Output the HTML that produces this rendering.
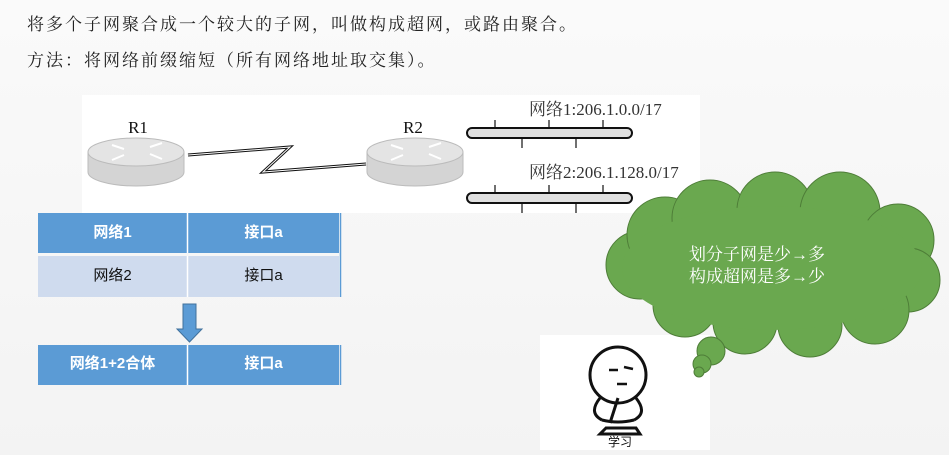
<!DOCTYPE html>
<html><head><meta charset="utf-8"><style>
body{margin:0;width:949px;height:455px;overflow:hidden;background:linear-gradient(#fafafa,#f3f3f3);font-family:"Liberation Serif","Noto Serif CJK SC",serif;position:relative}
.t{position:absolute;left:27px;font-size:17px;letter-spacing:2px;color:#222;white-space:nowrap}
.c{position:absolute;display:flex;align-items:center;justify-content:center;font-family:"Liberation Sans","Noto Sans CJK SC",sans-serif;font-size:15px}
</style></head><body>
<div class="t" style="top:10px">将多个子网聚合成一个较大的子网，叫做构成超网，或路由聚合。</div>
<div class="t" style="top:46px">方法：将网络前缀缩短（所有网络地址取交集）。</div>
<svg width="949" height="455" style="position:absolute;left:0;top:0">
<rect x="82" y="95" width="618" height="118" fill="#fff"/>
<g>
<path d="M88 152 v20 a48 14 0 0 0 96 0 v-20z" fill="#d4d4d4" stroke="#bbb"/>
<ellipse cx="136" cy="152" rx="48" ry="14" fill="#e4e4e4" stroke="#bbb"/>
<path d="M112 145 l12 4 M150 147 l12 -4 M112 160 l12 -5 M150 154 l12 5" stroke="#fff" stroke-width="2"/>
<text x="138" y="133" font-size="17" text-anchor="middle" fill="#111">R1</text>
</g>
<g>
<path d="M367 152 v20 a48 14 0 0 0 96 0 v-20z" fill="#d4d4d4" stroke="#bbb"/>
<ellipse cx="415" cy="152" rx="48" ry="14" fill="#e4e4e4" stroke="#bbb"/>
<path d="M391 145 l12 4 M429 147 l12 -4 M391 160 l12 -5 M429 154 l12 5" stroke="#fff" stroke-width="2"/>
<text x="413" y="133" font-size="17" text-anchor="middle" fill="#111">R2</text>
</g>
<polyline points="188,155 290,147 263,172 366,164" fill="none" stroke="#111" stroke-width="3" stroke-linejoin="miter"/>
<polyline points="188,155 290,147 263,172 366,164" fill="none" stroke="#fff" stroke-width="1"/>
<rect x="467" y="128" width="165" height="10" rx="5" fill="#e0e0e0" stroke="#111" stroke-width="2"/>
<path d="M495 120v8M549 120v8M603 120v8M522 138v10M576 138v10" stroke="#111" stroke-width="1.2"/>
<rect x="467" y="193" width="165" height="10" rx="5" fill="#e0e0e0" stroke="#111" stroke-width="2"/>
<path d="M495 185v8M549 185v8M603 185v8M522 203v10M576 203v10" stroke="#111" stroke-width="1.2"/>
<text x="529" y="115" font-size="17" fill="#333">网络1:206.1.0.0/17</text>
<text x="529" y="178" font-size="17" fill="#333">网络2:206.1.128.0/17</text>
<rect x="38" y="213" width="301" height="40" fill="#5b9bd5"/>
<rect x="38" y="256" width="301" height="41" fill="#cfdbee"/>
<rect x="38" y="345" width="301" height="40" fill="#5b9bd5"/>
<path d="M187.5 213v40M187.5 256v41M187.5 345v40" stroke="#fff" stroke-width="1.5"/>
<path d="M340.5 213v84M340.5 345v40" stroke="#5b9bd5" stroke-width="1.5"/>
<path d="M183 304h13v25h6l-12.5 13l-12.5 -13h6z" fill="#5b9bd5" stroke="#41719c"/>
<rect x="540" y="335" width="170" height="115" fill="#fff"/>
<g fill="#6aa84f" stroke="#4e7d38" stroke-width="1">
<circle cx="640" cy="265" r="34"/><circle cx="665" cy="235" r="38"/><circle cx="710" cy="218" r="38"/><circle cx="775" cy="210" r="38"/>
<circle cx="840" cy="212" r="40"/><circle cx="898" cy="240" r="36"/><circle cx="908" cy="280" r="32"/>
<circle cx="875" cy="310" r="34"/><circle cx="810" cy="325" r="32"/><circle cx="745" cy="322" r="32"/><circle cx="685" cy="305" r="32"/>
</g>
<ellipse cx="772" cy="268" rx="150" ry="62" fill="#6aa84f"/>
<circle cx="711" cy="351" r="14" fill="#6aa84f" stroke="#4e7d38"/>
<circle cx="702" cy="364" r="9" fill="#6aa84f" stroke="#4e7d38"/>
<circle cx="699" cy="372" r="5" fill="#6aa84f" stroke="#4e7d38"/>
<text x="757" y="260" font-size="17" fill="#fff" text-anchor="middle">划分子网是少→多</text>
<text x="757" y="282" font-size="17" fill="#fff" text-anchor="middle">构成超网是多→少</text>
<g fill="none" stroke="#111" stroke-width="3">
<ellipse cx="618" cy="375" rx="28" ry="28"/>
<path d="M600 398 q-12 15 2 22 M636 398 q12 15 -2 22 M602 420 q16 4 32 0 M618 398 l-8 25 M606 428 l-6 6 h40 l-4 -6z"/>
</g>
<path d="M609 370h9M624 367l9 2M617 384h10" stroke="#111" stroke-width="2.5"/>
<text x="620" y="446" font-size="12" text-anchor="middle" font-family="Liberation Sans,Noto Sans CJK SC,sans-serif" fill="#111">学习</text>
</svg>
<div class="c" style="left:38px;top:213px;width:149px;height:36px;color:#fff;font-weight:bold">网络1</div>
<div class="c" style="left:188px;top:213px;width:151px;height:36px;color:#fff;font-weight:bold">接口a</div>
<div class="c" style="left:38px;top:256px;width:149px;height:36px;color:#111">网络2</div>
<div class="c" style="left:188px;top:256px;width:151px;height:36px;color:#111">接口a</div>
<div class="c" style="left:38px;top:345px;width:149px;height:34px;color:#fff;font-weight:bold">网络1+2合体</div>
<div class="c" style="left:188px;top:345px;width:151px;height:34px;color:#fff;font-weight:bold">接口a</div>
</body></html>
